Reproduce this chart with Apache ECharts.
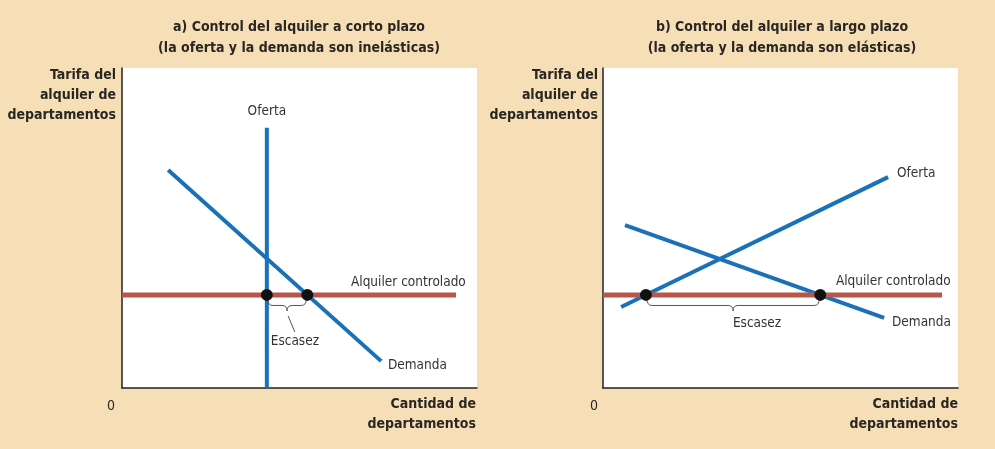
<!DOCTYPE html>
<html><head><meta charset="utf-8">
<script src="https://cdn.jsdelivr.net/npm/echarts@6/dist/echarts.min.js"></script>
<style>html,body{margin:0;padding:0;background:#f6dfb6;}#c{width:995px;height:449px;}</style>
</head><body><div id="c"></div>
<script>
// ---- data (x: quantity 0-100, y: rent 0-100) ----
const titleA = ['a) Control del alquiler a corto plazo', '(la oferta y la demanda son inelásticas)'];
const titleB = ['b) Control del alquiler a largo plazo', '(la oferta y la demanda son elásticas)'];
const yAxisName = ['Tarifa del', 'alquiler de', 'departamentos'];
const xAxisName = ['Cantidad de', 'departamentos'];
const originLabel = '0';

const supplyA = [[40.8, 0], [40.8, 81.3]];
const demandA = [[13.0, 68.1], [73.0, 8.4]];
const rentA = [[0, 29.1], [94.1, 29.1]];
const shortageA = [[40.8, 29.1], [52.2, 29.1]];
const leaderA = [[46.8, 22.5], [48.7, 17.5]];

const supplyB = [[5.1, 25.3], [80.3, 65.9]];
const demandB = [[6.2, 50.9], [79.2, 21.9]];
const rentB = [[0, 29.1], [95.5, 29.1]];
const shortageB = [[12.1, 29.1], [61.2, 29.1]];

// label anchors [x, y, text]
const labelsA = [[40.8, 86.3, 'Oferta'], [64.5, 33.1, 'Alquiler controlado'], [74.9, 6.9, 'Demanda'], [48.7, 14.4, 'Escasez']];
const labelAlignA = ['center', 'left', 'left', 'center'];
const labelsB = [[82.8, 66.9, 'Oferta'], [65.6, 33.4, 'Alquiler controlado'], [81.4, 20.6, 'Demanda'], [43.4, 20.3, 'Escasez']];
const labelAlignB = ['left', 'left', 'left', 'center'];

// ---- style ----
const FONT = '"Liberation Sans Narrow", "DejaVu Sans Condensed", "Roboto Condensed", sans-serif';
const BLUE = '#1a71b7';
const RED = '#b9564b';
const TXT = '#2a2723';

const chart = echarts.init(document.getElementById('c'), null, {renderer: 'canvas'});

function axisPair(gi) {
  return {
    x: {type: 'value', gridIndex: gi, min: 0, max: 100, axisLine: {show: true, onZero: false, lineStyle: {color: '#222', width: 1.5}},
        axisTick: {show: false}, axisLabel: {show: false}, splitLine: {show: false}},
    y: {type: 'value', gridIndex: gi, min: 0, max: 100, axisLine: {show: true, onZero: false, lineStyle: {color: '#222', width: 1.5}},
        axisTick: {show: false}, axisLabel: {show: false}, splitLine: {show: false}}
  };
}
const a0 = axisPair(0), a1 = axisPair(1);

function lineS(gi, data, color, width, z) {
  return {type: 'line', xAxisIndex: gi, yAxisIndex: gi, data: data, symbol: 'none', silent: true,
    lineStyle: {color: color, width: width, cap: 'butt'}, z: z, animation: false};
}
function dotsS(gi, data) {
  return {type: 'scatter', xAxisIndex: gi, yAxisIndex: gi, data: data, symbolSize: 12,
    itemStyle: {color: '#111111', opacity: 1}, z: 10, animation: false, silent: true};
}
function braceS(gi, pts, depth) {
  return {type: 'custom', xAxisIndex: gi, yAxisIndex: gi, z: 9, silent: true, animation: false,
    data: [[pts[0][0], pts[1][0], pts[0][1]]],
    renderItem: function (params, api) {
      const p1 = api.coord([api.value(0), api.value(2)]);
      const p2 = api.coord([api.value(1), api.value(2)]);
      const y0 = p1[1] + 4, h = depth;
      const x1 = p1[0] + 1, x2 = p2[0] - 1, m = (x1 + x2) / 2, r = 5;
      const ym = y0 + h * 0.55, yt = y0 + h;
      const d = `M${x1} ${y0} Q${x1} ${ym} ${x1 + r} ${ym} L${m - r} ${ym} Q${m} ${ym} ${m} ${yt} Q${m} ${ym} ${m + r} ${ym} L${x2 - r} ${ym} Q${x2} ${ym} ${x2} ${y0}`;
      return {type: 'path', shape: {pathData: d}, style: {stroke: '#555', lineWidth: 1, fill: null}};
    }};
}
function labelS(gi, data, aligns) {
  return {type: 'scatter', xAxisIndex: gi, yAxisIndex: gi, symbolSize: 0, z: 11, silent: true, animation: false,
    itemStyle: {opacity: 1},
    data: data.map((d, i) => ({value: [d[0], d[1]], name: d[2],
      label: {show: true, position: 'inside', formatter: d[2], align: aligns[i], verticalAlign: 'middle',
        color: '#333', opacity: 1, textBorderWidth: 0, textBorderColor: 'transparent',
        fontFamily: FONT, fontSize: 13.5}}))};
}

const graphics = [];
function textBlock(lines, x, y, align, lh, bold, size) {
  lines.forEach((t, i) => graphics.push({type: 'text', x: x, y: y + i * lh,
    style: {text: t, fill: TXT, font: `${bold ? 'bold ' : ''}${size}px ${FONT}`, textAlign: align, textVerticalAlign: 'middle'}}));
}
textBlock(titleA, 299, 27, 'center', 21, true, 14);
textBlock(titleB, 782, 27, 'center', 21, true, 14);
textBlock(yAxisName, 116, 75, 'right', 20, true, 14);
textBlock(yAxisName, 598, 75, 'right', 20, true, 14);
textBlock(xAxisName, 476, 404, 'right', 20, true, 14);
textBlock(xAxisName, 958, 404, 'right', 20, true, 14);
textBlock([originLabel], 111, 406, 'center', 20, false, 14);
textBlock([originLabel], 594, 406, 'center', 20, false, 14);

chart.setOption({
  backgroundColor: '#f6dfb6',
  animation: false,
  grid: [
    {left: 122, top: 68, width: 355, height: 320, show: true, backgroundColor: '#ffffff', borderWidth: 0},
    {left: 603, top: 68, width: 355, height: 320, show: true, backgroundColor: '#ffffff', borderWidth: 0}
  ],
  xAxis: [a0.x, a1.x],
  yAxis: [a0.y, a1.y],
  graphic: graphics,
  series: [
    lineS(0, supplyA, BLUE, 4, 3),
    lineS(0, demandA, BLUE, 4, 3),
    lineS(0, rentA, RED, 5, 4),
    lineS(0, leaderA, '#555', 1, 4),
    braceS(0, shortageA, 12),
    dotsS(0, shortageA),
    labelS(0, labelsA, labelAlignA),
    lineS(1, supplyB, BLUE, 4, 3),
    lineS(1, demandB, BLUE, 4, 3),
    lineS(1, rentB, RED, 5, 4),
    braceS(1, shortageB, 12),
    dotsS(1, shortageB),
    labelS(1, labelsB, labelAlignB)
  ]
});
</script></body></html>
